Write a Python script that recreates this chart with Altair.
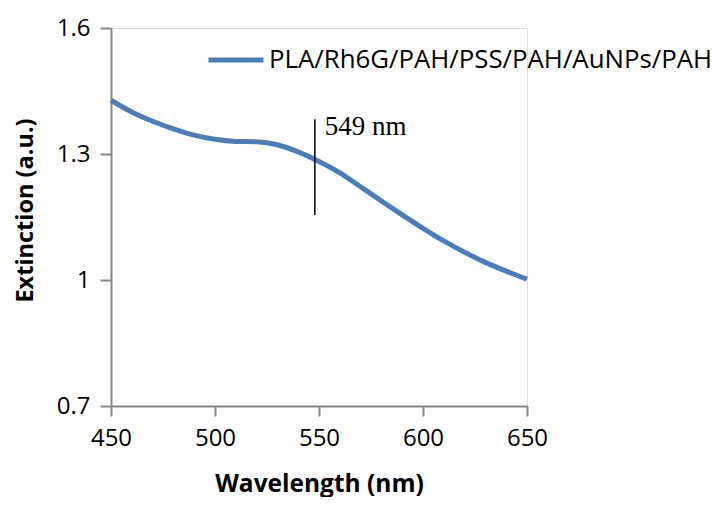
import altair as alt
import pandas as pd

# Data
wavelength = [450, 460, 470, 480, 490, 500, 510, 520, 530, 540, 550,
              560, 570, 580, 590, 600, 610, 620, 630, 640, 650]
extinction = [1.428, 1.400, 1.378, 1.360, 1.345, 1.335, 1.330, 1.329, 1.322, 1.305, 1.282,
              1.255, 1.222, 1.188, 1.155, 1.123, 1.093, 1.066, 1.042, 1.021, 1.002]
series_name = "PLA/Rh6G/PAH/PSS/PAH/AuNPs/PAH"

marker_x = [548]
marker_y = [1.383]
marker_y2 = [1.155]
marker_label = ["549 nm"]
marker_label_y = [1.345]

x_ticks = [450, 500, 550, 600, 650]
y_ticks = [0.7, 1.0, 1.3, 1.6]

df = pd.DataFrame({"Wavelength": wavelength, "Extinction": extinction,
                   "Series": [series_name] * len(wavelength)})
mk = pd.DataFrame({"x": marker_x, "y": marker_y, "y2": marker_y2,
                   "label": marker_label, "ly": marker_label_y})

AX = "#868686"
FONT = "Open Sans"

xscale = alt.Scale(domain=[450, 650], nice=False, zero=False)
yscale = alt.Scale(domain=[0.7, 1.6], nice=False, zero=False)

line = alt.Chart(df).mark_line(strokeWidth=5, interpolate="monotone").encode(
    x=alt.X("Wavelength:Q", scale=xscale,
            axis=alt.Axis(title="Wavelength (nm)", values=x_ticks, grid=False, labelFlush=False,
                          tickSize=10, tickColor=AX, domainColor=AX, tickWidth=2, domainWidth=2,
                          labelFont=FONT, labelFontSize=24, labelColor="#000000",
                          labelPadding=10, titleFont=FONT, titleFontSize=24.5,
                          titleFontWeight="bold", titleColor="#000000",
                          titleBaseline="alphabetic", titleY=85)),
    y=alt.Y("Extinction:Q", scale=yscale,
            axis=alt.Axis(title="Extinction (a.u.)", values=y_ticks, format="~g", grid=False,
                          labelFlush=False,
                          tickSize=11, tickColor=AX, domainColor=AX, tickWidth=2, domainWidth=2,
                          labelFont=FONT, labelFontSize=24, labelColor="#000000",
                          labelPadding=10, titleFont=FONT, titleFontSize=23.5,
                          titleFontWeight="bold", titleColor="#000000",
                          titleX=-86, titleY=182, titleAlign="center",
                          titleBaseline="middle", titleAngle=270)),
    color=alt.Color("Series:N", scale=alt.Scale(range=["#4A7EBB"]),
                    legend=alt.Legend(title=None, orient="none", legendX=95, legendY=2,
                                      symbolType="stroke", symbolSize=3025,
                                      symbolStrokeWidth=5, labelFont=FONT,
                                      labelFontSize=25.8, labelColor="#000000",
                                      labelLimit=600, labelOffset=3)),
)

rule = alt.Chart(mk).mark_rule(color="#000000", strokeWidth=1.5).encode(
    x=alt.X("x:Q", scale=xscale), y=alt.Y("y:Q", scale=yscale), y2="y2:Q"
)

label = alt.Chart(mk).mark_text(font="Liberation Serif", fontSize=27, align="left",
                                baseline="alphabetic", dx=10, color="#000000").encode(
    x=alt.X("x:Q", scale=xscale), y=alt.Y("ly:Q", scale=yscale), text="label:N"
)

chart = alt.layer(line, rule, label).properties(
    width=416, height=378,
    autosize=alt.AutoSizeParams(type="none"),
    padding={"left": 103, "top": 20, "right": 191, "bottom": 91},
).configure_view(stroke=None).configure(background="white")

chart.save("out.html", embed_options={"renderer": "svg", "actions": False})
